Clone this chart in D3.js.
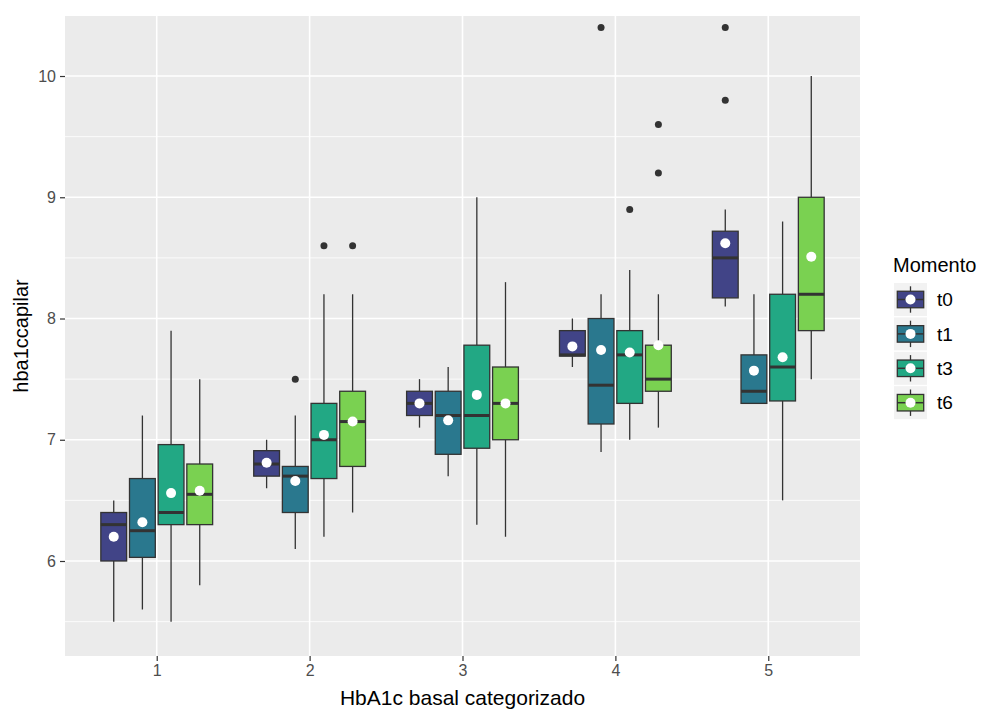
<!DOCTYPE html>
<html>
<head>
<meta charset="utf-8">
<script src="https://cdn.jsdelivr.net/npm/d3@7"></script>
<style>
  body { margin: 0; background: #fff; }
  svg { font-family: "Liberation Sans", Arial, sans-serif; }
</style>
</head>
<body>
<svg width="981" height="710"></svg>
<script>
// ---- data ----
var categories = ["1", "2", "3", "4", "5"];
var momentos = ["t0", "t1", "t3", "t6"];
var colors = ["#414487", "#2A788E", "#22A884", "#7AD151"];
var yTicks = [6, 7, 8, 9, 10];
var yMinor = [5.5, 6.5, 7.5, 8.5, 9.5];

// rows = momento, columns = category
var whiskerLow = [
  [5.5, 6.6, 7.1, 7.6, 8.1],
  [5.6, 6.1, 6.7, 6.9, 7.3],
  [5.5, 6.2, 6.3, 7.0, 6.5],
  [5.8, 6.4, 6.2, 7.1, 7.5]
];
var q1 = [
  [6.0, 6.7, 7.2, 7.69, 8.17],
  [6.03, 6.4, 6.88, 7.13, 7.3],
  [6.3, 6.68, 6.93, 7.3, 7.32],
  [6.3, 6.78, 7.0, 7.4, 7.9]
];
var medians = [
  [6.3, 6.8, 7.3, 7.7, 8.5],
  [6.25, 6.7, 7.2, 7.45, 7.4],
  [6.4, 7.0, 7.2, 7.7, 7.6],
  [6.55, 7.15, 7.3, 7.5, 8.2]
];
var q3 = [
  [6.4, 6.91, 7.4, 7.9, 8.72],
  [6.68, 6.78, 7.4, 8.0, 7.7],
  [6.96, 7.3, 7.78, 7.9, 8.2],
  [6.8, 7.4, 7.6, 7.78, 9.0]
];
var whiskerHigh = [
  [6.5, 7.0, 7.5, 8.0, 8.9],
  [7.2, 7.2, 7.6, 8.2, 8.2],
  [7.9, 8.2, 9.0, 8.4, 8.8],
  [7.5, 8.2, 8.3, 8.2, 10.0]
];
var means = [
  [6.2, 6.81, 7.3, 7.77, 8.62],
  [6.32, 6.66, 7.16, 7.74, 7.57],
  [6.56, 7.04, 7.37, 7.72, 7.68],
  [6.58, 7.15, 7.3, 7.78, 8.51]
];
var outliers = [
  [[], [], [], [], [9.8, 10.4]],
  [[], [7.5], [], [10.4], []],
  [[], [8.6], [], [8.9], []],
  [[], [8.6], [], [9.2, 9.6], []]
];

// ---- layout ----
var panel = {left: 65, right: 860, top: 16, bottom: 656};
var svg = d3.select("svg");

var xScale = d3.scaleLinear().domain([0.4, 5.6]).range([panel.left, panel.right]);
var yScale = d3.scaleLinear().domain([5.2165, 10.495]).range([panel.bottom, panel.top]);

var dodge = 0.75;
var slot = dodge / momentos.length;
var boxW = xScale(slot * 0.9) - xScale(0);
function xPos(ci, mi) {
  return xScale(ci + 1 - dodge / 2 + slot * (mi + 0.5));
}

// flatten into records
var records = [];
momentos.forEach(function(m, mi) {
  categories.forEach(function(c, ci) {
    records.push({
      mi: mi, ci: ci,
      lo: whiskerLow[mi][ci], q1: q1[mi][ci], med: medians[mi][ci],
      q3: q3[mi][ci], hi: whiskerHigh[mi][ci], mean: means[mi][ci],
      out: outliers[mi][ci]
    });
  });
});

// panel background + grid
svg.append("rect")
  .attr("x", panel.left).attr("y", panel.top)
  .attr("width", panel.right - panel.left).attr("height", panel.bottom - panel.top)
  .attr("fill", "#EBEBEB");

svg.append("g").selectAll("line").data(yMinor).enter().append("line")
  .attr("x1", panel.left).attr("x2", panel.right)
  .attr("y1", function(d) { return yScale(d); }).attr("y2", function(d) { return yScale(d); })
  .attr("stroke", "#fff").attr("stroke-width", 0.8);

svg.append("g").selectAll("line").data(yTicks).enter().append("line")
  .attr("x1", panel.left).attr("x2", panel.right)
  .attr("y1", function(d) { return yScale(d); }).attr("y2", function(d) { return yScale(d); })
  .attr("stroke", "#fff").attr("stroke-width", 1.6);

svg.append("g").selectAll("line").data(categories).enter().append("line")
  .attr("x1", function(d, i) { return xScale(i + 1); }).attr("x2", function(d, i) { return xScale(i + 1); })
  .attr("y1", panel.top).attr("y2", panel.bottom)
  .attr("stroke", "#fff").attr("stroke-width", 1.6);

// boxplots
var boxes = svg.append("g").selectAll("g").data(records).enter().append("g");

boxes.append("line")
  .attr("x1", function(d) { return xPos(d.ci, d.mi); })
  .attr("x2", function(d) { return xPos(d.ci, d.mi); })
  .attr("y1", function(d) { return yScale(d.hi); })
  .attr("y2", function(d) { return yScale(d.q3); })
  .attr("stroke", "#333").attr("stroke-width", 1.3);

boxes.append("line")
  .attr("x1", function(d) { return xPos(d.ci, d.mi); })
  .attr("x2", function(d) { return xPos(d.ci, d.mi); })
  .attr("y1", function(d) { return yScale(d.q1); })
  .attr("y2", function(d) { return yScale(d.lo); })
  .attr("stroke", "#333").attr("stroke-width", 1.3);

boxes.append("rect")
  .attr("x", function(d) { return xPos(d.ci, d.mi) - boxW / 2; })
  .attr("width", boxW)
  .attr("y", function(d) { return yScale(d.q3); })
  .attr("height", function(d) { return yScale(d.q1) - yScale(d.q3); })
  .attr("fill", function(d) { return colors[d.mi]; })
  .attr("stroke", "#333").attr("stroke-width", 1.3);

boxes.append("line")
  .attr("x1", function(d) { return xPos(d.ci, d.mi) - boxW / 2; })
  .attr("x2", function(d) { return xPos(d.ci, d.mi) + boxW / 2; })
  .attr("y1", function(d) { return yScale(d.med); })
  .attr("y2", function(d) { return yScale(d.med); })
  .attr("stroke", "#333").attr("stroke-width", 3);

boxes.selectAll("circle.out")
  .data(function(d) { return d.out.map(function(v) { return {v: v, x: xPos(d.ci, d.mi)}; }); })
  .enter().append("circle")
  .attr("class", "out")
  .attr("cx", function(d) { return d.x; })
  .attr("cy", function(d) { return yScale(d.v); })
  .attr("r", 3.5)
  .attr("fill", "#333");

// means
svg.append("g").selectAll("circle").data(records).enter().append("circle")
  .attr("cx", function(d) { return xPos(d.ci, d.mi); })
  .attr("cy", function(d) { return yScale(d.mean); })
  .attr("r", 5)
  .attr("fill", "#fff");

// axes
var yAxis = svg.append("g")
  .attr("transform", "translate(" + panel.left + ",0)")
  .call(d3.axisLeft(yScale).tickValues(yTicks).tickSize(5).tickPadding(4).tickFormat(d3.format("d")));
yAxis.select(".domain").remove();
yAxis.selectAll(".tick line").attr("stroke", "#333").attr("stroke-width", 1.2);
yAxis.selectAll(".tick text").attr("fill", "#4D4D4D").style("font-size", "16px");

var xAxis = svg.append("g")
  .attr("transform", "translate(0," + panel.bottom + ")")
  .call(d3.axisBottom(xScale).tickValues([1, 2, 3, 4, 5]).tickSize(5).tickPadding(4)
    .tickFormat(function(d) { return categories[d - 1]; }));
xAxis.select(".domain").remove();
xAxis.selectAll(".tick line").attr("stroke", "#333").attr("stroke-width", 1.2);
xAxis.selectAll(".tick text").attr("fill", "#4D4D4D").style("font-size", "16px");

svg.append("text")
  .attr("x", (panel.left + panel.right) / 2)
  .attr("y", 705)
  .attr("text-anchor", "middle")
  .style("font-size", "21px")
  .text("HbA1c basal categorizado");

svg.append("text")
  .attr("transform", "translate(28," + ((panel.top + panel.bottom) / 2) + ") rotate(-90)")
  .attr("text-anchor", "middle")
  .style("font-size", "20px")
  .text("hba1ccapilar");

// legend
var legend = svg.append("g").attr("transform", "translate(894,283)");
legend.append("text")
  .attr("x", -1).attr("y", -11)
  .style("font-size", "20px")
  .text("Momento");

var keySize = 33, keyStep = 34.4;
var keys = legend.selectAll("g").data(momentos).enter().append("g")
  .attr("transform", function(d, i) { return "translate(0," + (i * keyStep) + ")"; });

keys.append("rect")
  .attr("width", keySize).attr("height", keySize)
  .attr("fill", "#F2F2F2");
keys.append("line")
  .attr("x1", keySize / 2).attr("x2", keySize / 2)
  .attr("y1", keySize * 0.1).attr("y2", keySize * 0.9)
  .attr("stroke", "#333").attr("stroke-width", 1.3);
keys.append("rect")
  .attr("x", keySize * 0.1).attr("y", keySize * 0.25)
  .attr("width", keySize * 0.8).attr("height", keySize * 0.5)
  .attr("fill", function(d, i) { return colors[i]; })
  .attr("stroke", "#333").attr("stroke-width", 1.3);
keys.append("line")
  .attr("x1", keySize * 0.1).attr("x2", keySize * 0.9)
  .attr("y1", keySize / 2).attr("y2", keySize / 2)
  .attr("stroke", "#333").attr("stroke-width", 1.5);
keys.append("circle")
  .attr("cx", keySize / 2).attr("cy", keySize / 2)
  .attr("r", 5).attr("fill", "#fff");
keys.append("text")
  .attr("x", 43).attr("y", keySize / 2)
  .attr("dy", "0.35em")
  .style("font-size", "19px")
  .text(function(d) { return d; });
</script>
</body>
</html>
